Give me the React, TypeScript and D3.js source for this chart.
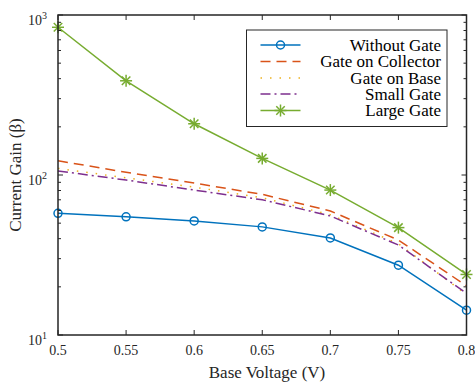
import React from "react";
import * as d3 from "d3";

const voltages = [0.5, 0.55, 0.6, 0.65, 0.7, 0.75, 0.8];
const withoutGate = [57.6, 54.8, 51.6, 47.4, 40.4, 27.3, 14.3];
const gateOnCollector = [122.7, 104, 89, 75.7, 59.6, 39.2, 20.3];
const gateOnBase = [110, 96, 84, 72, 56.5, 37.2, 17.9];
const smallGate = [106, 93, 80.5, 70, 55.5, 36.5, 18.2];
const largeGate = [838, 388, 209, 127, 80.5, 46.9, 23.9];
const xTicks = [0.5, 0.55, 0.6, 0.65, 0.7, 0.75, 0.8];
const yMajor = [10, 100, 1000];
const seriesNames = ["Without Gate", "Gate on Collector", "Gate on Base", "Small Gate", "Large Gate"];

const W = 475, H = 385;
const L = 58, R = 466.5, T = 15, B = 335;
const font = "'Liberation Serif', 'Times New Roman', serif";

const colors = ["#0072BD", "#D95319", "#EDB120", "#7E2F8E", "#77AC30"];
const dashes = [undefined, "10,6", "1.5,8", "10,4,2,4", undefined];
const allSeries = [withoutGate, gateOnCollector, gateOnBase, smallGate, largeGate];

function Asterisk({ x, y, c, r = 6 }: { x: number; y: number; c: string; r?: number }) {
  const a = r * 0.7071;
  return (
    <g stroke={c} strokeWidth={1.5}>
      <line x1={x - r} y1={y} x2={x + r} y2={y} />
      <line x1={x} y1={y - r} x2={x} y2={y + r} />
      <line x1={x - a} y1={y - a} x2={x + a} y2={y + a} />
      <line x1={x - a} y1={y + a} x2={x + a} y2={y - a} />
    </g>
  );
}

export default function App() {
  const x = d3.scaleLinear().domain([0.5, 0.8]).range([L, R]);
  const y = d3.scaleLog().domain([10, 1000]).range([B, T]);
  const line = d3.line<number>().x((_, i) => x(voltages[i])).y((d) => y(d));

  const minor: number[] = [];
  for (const dec of [10, 100]) for (let k = 2; k <= 9; k++) minor.push(dec * k);

  const legX0 = 246.5, legY0 = 30, legW = 200.5, legH = 96.5;
  const legRow = [45, 61.5, 78, 94, 110.5];

  return (
    <svg width={W} height={H} style={{ position: "absolute", left: 0, top: 0, background: "#fff" }}>
      <rect x={0} y={0} width={W} height={H} fill="#fff" />
      {/* series */}
      {allSeries.map((s, i) => (
        <path key={i} d={line(s) || ""} fill="none" stroke={colors[i]} strokeWidth={1.5}
          strokeDasharray={dashes[i]} />
      ))}
      {withoutGate.map((v, i) => (
        <circle key={"c" + i} cx={x(voltages[i])} cy={y(v)} r={4} fill="none" stroke={colors[0]} strokeWidth={1.5} />
      ))}
      {largeGate.map((v, i) => (
        <Asterisk key={"a" + i} x={x(voltages[i])} y={y(v)} c={colors[4]} />
      ))}
      {/* ticks */}
      <g stroke="#262626" strokeWidth={1}>
        {xTicks.map((t, i) => (
          <g key={"xt" + i}>
            <line x1={x(t)} x2={x(t)} y1={B} y2={B - 5} />
            <line x1={x(t)} x2={x(t)} y1={T} y2={T + 5} />
          </g>
        ))}
        {yMajor.map((t, i) => (
          <g key={"ym" + i}>
            <line x1={L} x2={L + 5} y1={y(t)} y2={y(t)} />
            <line x1={R} x2={R - 5} y1={y(t)} y2={y(t)} />
          </g>
        ))}
        {minor.map((t, i) => (
          <g key={"yn" + i}>
            <line x1={L} x2={L + 3} y1={y(t)} y2={y(t)} />
            <line x1={R} x2={R - 3} y1={y(t)} y2={y(t)} />
          </g>
        ))}
      </g>
      <rect x={L} y={T} width={R - L} height={B - T} fill="none" stroke="#262626" strokeWidth={1.5} />
      {/* tick labels */}
      <g fontFamily={font} fill="#262626">
        {xTicks.map((t, i) => (
          <text key={"xl" + i} x={x(t)} y={355} textAnchor="middle" fontSize={14}>{String(t)}</text>
        ))}
        {yMajor.map((t, i) => (
          <text key={"yl" + i} x={47} y={Math.max(y(t) + 10, 21)} textAnchor="end" fontSize={14}>
            10<tspan fontSize={10} dy={-6}>{Math.round(Math.log10(t))}</tspan>
          </text>
        ))}
      </g>
      {/* axis labels */}
      <text x={267} y={378} textAnchor="middle" fontFamily={font} fontSize={17} fill="#262626">Base Voltage (V)</text>
      <text transform={`translate(21,${(T + B) / 2}) rotate(-90)`} textAnchor="middle" fontFamily={font} fontSize={17} fill="#262626">Current Gain (β)</text>
      {/* legend */}
      <rect x={legX0} y={legY0} width={legW} height={legH} fill="#fff" stroke="#262626" strokeWidth={1} />
      {seriesNames.map((n, i) => (
        <g key={"lg" + i}>
          <line x1={260.5} x2={300.5} y1={legRow[i]} y2={legRow[i]} stroke={colors[i]} strokeWidth={1.5} strokeDasharray={dashes[i]} />
          {i === 0 && <circle cx={280.5} cy={legRow[i]} r={4} fill="none" stroke={colors[0]} strokeWidth={1.5} />}
          {i === 4 && <Asterisk x={280.5} y={legRow[i]} c={colors[4]} />}
          <text x={441} y={legRow[i] + 5.5} textAnchor="end" fontFamily={font} fontSize={17} fill="#000">{n}</text>
        </g>
      ))}
    </svg>
  );
}
